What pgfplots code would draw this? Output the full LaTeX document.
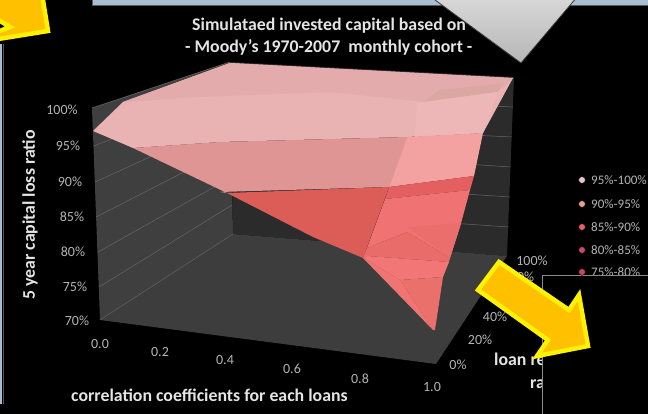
\documentclass[border=0pt]{standalone}
\usepackage{pgfplots}
\pgfplotsset{compat=1.18}
\usepackage{fontspec}
\setmainfont{Carlito}
\definecolor{wallL}{HTML}{3F3F3F}
\definecolor{floorc}{HTML}{3D3D3D}
\definecolor{wallB}{HTML}{2B2B2B}
\definecolor{gridc}{HTML}{666666}
\definecolor{slide}{HTML}{A8BCD2}
\definecolor{orange}{HTML}{FFC000}
\definecolor{ticktxt}{HTML}{B4B4B4}
\definecolor{headtxt}{HTML}{E4E4E4}
\definecolor{sa}{HTML}{E9B3B3}
\definecolor{sb}{HTML}{E3ABAB}
\definecolor{sc}{HTML}{DBA7A2}
\definecolor{sd}{HTML}{EDB7B7}
\definecolor{se}{HTML}{DE9593}
\definecolor{sf}{HTML}{F4A1A1}
\definecolor{sg}{HTML}{DC5D58}
\definecolor{sh}{HTML}{E46060}
\definecolor{si}{HTML}{F07272}
\definecolor{sj}{HTML}{E96C6A}
\definecolor{sk}{HTML}{F27676}
\definecolor{sl}{HTML}{E9706B}
\definecolor{sm}{HTML}{F07474}
\definecolor{sn}{HTML}{EC6E6C}
\definecolor{la}{HTML}{E8C2CC}
\definecolor{lb}{HTML}{DFA393}
\definecolor{lc}{HTML}{E0606A}
\definecolor{ld}{HTML}{C84B6E}
\definecolor{le}{HTML}{C8485A}
\definecolor{winb}{HTML}{8C8C8C}
\definecolor{penb}{HTML}{3A3A3A}
\definecolor{pent}{HTML}{D8D8D8}
\definecolor{penu}{HTML}{B6B6B6}
% filled polygon given in picture-plane coordinates
\newcommand{\poly}[2]{\addplot[draw=none,fill=#1,forget plot] coordinates {#2} -- cycle;}
\newcommand{\seg}[1]{\addplot[draw=gridc,line width=0.5pt,forget plot] coordinates {#1};}
\tikzset{
  head/.style={font=\bfseries\fontsize{17.8}{20}\selectfont,text=headtxt,inner sep=0},
  tick/.style={font=\fontsize{14}{16}\selectfont,text=ticktxt,inner sep=0},
  keytxt/.style={font=\fontsize{13}{15}\selectfont,text=ticktxt,inner sep=0}}
\begin{document}
\begin{tikzpicture}
\begin{axis}[
  at={(0,0)},anchor=south west,
  width=648pt,height=414pt,scale only axis,
  xmin=0,xmax=648,ymin=0,ymax=414,y dir=reverse,
  hide axis,no marks,clip=true]
% backdrop
\poly{black}{(0,0)(648,0)(648,414)(0,414)}
\poly{slide}{(93,0)(648,0)(648,5)(93,5)}
\addplot[draw=gray!70!black,line width=1pt,forget plot] coordinates {(92,0)(92,5.5)(648,5.5)};
\poly{slide}{(0,44)(2,44)(2,404)(0,404)}
\addplot[draw=gray!70!black,line width=1pt,forget plot] coordinates {(3,44)(3,404)};

% walls and floor of the 3-D chart
\poly{wallL}{(92,108)(230,62)(233,234)(100,320)}
\poly{wallB}{(230,62)(514,77)(507,256)(233,234)}
\poly{floorc}{(100,320)(233,234)(507,256)(436,364)}

% gridlines on the value walls, 100% down to 70%
\seg{(92,108)(230,62)}
\seg{(94,146)(230,91)}
\seg{(95,182)(231,120)}
\seg{(96,217)(231,148)}
\seg{(98,252)(232,177)}
\seg{(99,287)(232,205)}
\seg{(100,320)(233,234)}
\seg{(450,104)(513,107)}
\seg{(450,134)(512,137)}
\seg{(450,163)(511,167)}
\seg{(450,193)(510,197)}
\seg{(450,223)(509,227)}

% response surface, 95%-100% band
\poly{sa}{(93,131)(123,102)(230,63)(513,78)(483,133)(407,137)(220,142)(133,148)}
\poly{sb}{(123,102)(230,63)(513,78)(502,88)(425,102)(330,92)(200,97)}
\poly{sc}{(423,102)(440,90)(502,84)(498,92)}
\poly{sd}{(417,103)(498,92)(483,133)(415,137)}
% 90%-95% band
\poly{se}{(133,148)(220,142)(407,137)(405,147)(389,187)(220,192)(227,193)}
\poly{sf}{(407,137)(483,133)(474,176)(389,187)(403,150)}
% 85%-90% band and below
\poly{sg}{(227,193)(389,187)(363,258)(313,237)}
\poly{sh}{(389,187)(474,176)(470,190)(385,199)}
\poly{si}{(385,199)(470,190)(460,227)(450,258)(407,232)(367,248)}
\poly{sn}{(407,227)(461,223)(450,258)}
\poly{sj}{(367,248)(407,232)(450,258)(449,262)(367,256)(363,258)}
\poly{sk}{(363,258)(367,256)(449,262)(443,277)(400,280)}
\poly{sl}{(400,280)(443,277)(435,330)(433,330)}
\poly{sm}{(363,258)(400,280)(433,330)}

% chart title
\node[anchor=west,head] at (axis cs:192,26) {Simulataed invested capital based on};
\node[anchor=west,head] at (axis cs:185,47) {- Moody's 1970-2007\ \ monthly cohort -};

% axis titles
\node[rotate=90,head] at (axis cs:30,215) {5 year capital loss ratio};
\node[anchor=west,head] at (axis cs:71,395) {correlation coefficients for each loans};
\node[anchor=west,head] at (axis cs:494,361) {loan recovery};
\node[anchor=west,head] at (axis cs:530,383) {rate};

% value axis labels
\node[tick] at (axis cs:62,110) {100\%};
\node[tick] at (axis cs:68,146) {95\%};
\node[tick] at (axis cs:70,182) {90\%};
\node[tick] at (axis cs:72,217) {85\%};
\node[tick] at (axis cs:73,252) {80\%};
\node[tick] at (axis cs:75,287) {75\%};
\node[tick] at (axis cs:77,321) {70\%};
% correlation axis labels
\node[tick] at (axis cs:100,344) {0.0};
\node[tick] at (axis cs:160,352) {0.2};
\node[tick] at (axis cs:225,360) {0.4};
\node[tick] at (axis cs:292,369) {0.6};
\node[tick] at (axis cs:360,379) {0.8};
\node[tick] at (axis cs:432,387) {1.0};
% recovery rate axis labels
\node[tick] at (axis cs:458,365) {0\%};
\node[tick] at (axis cs:480,340) {20\%};
\node[tick] at (axis cs:495,317) {40\%};
\node[tick] at (axis cs:510,297) {60\%};
\node[tick] at (axis cs:522,277) {80\%};
\node[tick] at (axis cs:532,261) {100\%};

% legend
\addplot[only marks,mark=square*,mark size=3.4pt,mark options={draw=none,fill=la},forget plot] coordinates {(582,180)};
\addplot[only marks,mark=square*,mark size=3.4pt,mark options={draw=none,fill=lb},forget plot] coordinates {(582,204)};
\addplot[only marks,mark=square*,mark size=3.4pt,mark options={draw=none,fill=lc},forget plot] coordinates {(582,227)};
\addplot[only marks,mark=square*,mark size=3.4pt,mark options={draw=none,fill=ld},forget plot] coordinates {(582,250)};
\addplot[only marks,mark=square*,mark size=3.4pt,mark options={draw=none,fill=le},forget plot] coordinates {(582,272)};
\node[anchor=west,keytxt] at (axis cs:591,180) {95\%-100\%};
\node[anchor=west,keytxt] at (axis cs:591,204) {90\%-95\%};
\node[anchor=west,keytxt] at (axis cs:591,227) {85\%-90\%};
\node[anchor=west,keytxt] at (axis cs:591,250) {80\%-85\%};
\node[anchor=west,keytxt] at (axis cs:591,272) {75\%-80\%};

% overlapping slide window
\addplot[draw=winb,line width=1.2pt,fill=black,forget plot] coordinates {(542.5,275.5)(660,275.5)(660,430)(542.5,430)} -- cycle;

% pentagon callout at the top
\addplot[draw=penb,line width=0.8pt,top color=pent,bottom color=penu,forget plot] coordinates {(431,-3)(521,63)(577,-3)} -- cycle;

% block arrows
\addplot[draw=yellow,line width=4.5pt,fill=orange,miter limit=10,line join=miter,forget plot] coordinates {(499,262)(569,310)(579,295)(588,346)(537,356)(548,340)(478,290)} -- cycle;
\addplot[draw=yellow,line width=4.5pt,fill=orange,miter limit=10,line join=miter,forget plot] coordinates {(42,-6)(48,31)(-8,40)(-8,34)(10,27)(-8,16)(-8,-6)} -- cycle;
\end{axis}
\end{tikzpicture}
\end{document}
